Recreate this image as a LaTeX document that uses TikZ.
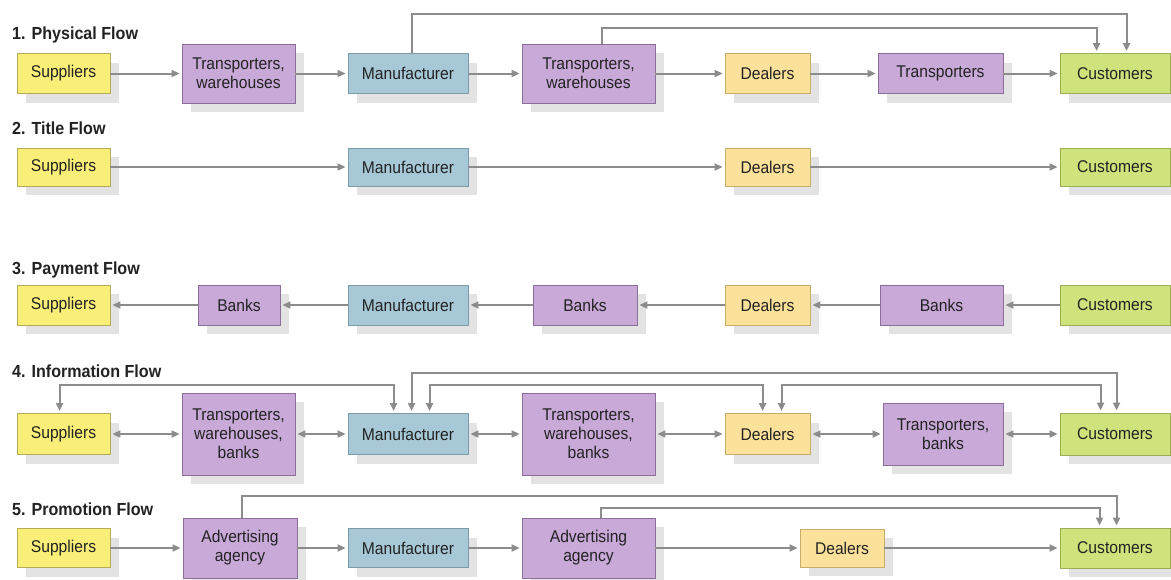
\documentclass[tikz,border=0pt]{standalone}
\usepackage{fontspec}
\setmainfont{Liberation Sans}[FakeStretch=0.92]
\usetikzlibrary{arrows.meta,shadows}

\definecolor{ink}{HTML}{222222}
\definecolor{lineC}{HTML}{8C8C8C}
\definecolor{shade}{HTML}{E3E3E3}
\definecolor{supF}{HTML}{F8EE78}\definecolor{supD}{HTML}{B5AA5A}
\definecolor{purF}{HTML}{C9A9D8}\definecolor{purD}{HTML}{8C6E9A}
\definecolor{manF}{HTML}{A7C8D6}\definecolor{manD}{HTML}{7D9BA8}
\definecolor{deaF}{HTML}{FCE19A}\definecolor{deaD}{HTML}{C8AC6A}
\definecolor{cusF}{HTML}{CFE37C}\definecolor{cusD}{HTML}{9BAE57}

\begin{document}
\begin{tikzpicture}[x=1pt,y=-1pt,
  box/.style={draw, line width=0.9pt, inner sep=0pt, align=center, text=ink,
    font=\fontsize{17}{19}\selectfont,
    drop shadow={shadow xshift=9pt, shadow yshift=-9pt, fill=shade, opacity=1}},
  sup/.style={box, fill=supF, draw=supD, minimum width=93pt, minimum height=40pt},
  man/.style={box, fill=manF, draw=manD, minimum width=120pt, minimum height=40pt},
  dea/.style={box, fill=deaF, draw=deaD, minimum width=85pt, minimum height=40pt},
  cus/.style={box, fill=cusF, draw=cusD, minimum width=110pt, minimum height=40pt},
  pur/.style={box, fill=purF, draw=purD},
  title/.style={anchor=base west, inner sep=0pt, text=ink,
    font=\bfseries\fontsize{17.5}{19}\selectfont},
  flow/.style={draw=lineC, line width=2pt, -{Triangle[length=8pt,width=7pt]}, shorten >=2pt},
  both/.style={flow, {Triangle[length=8pt,width=7pt]}-{Triangle[length=8pt,width=7pt]}, shorten <=2pt}
]
\fill[white] (0,0) rectangle (1171,579);
\useasboundingbox (0,0) rectangle (1171,579);

% ---------- 1. Physical flow ----------
\node[title] (h1) at (12,39) {1. Physical Flow};
\node[sup] (s1) at (63.5,73.5) {Suppliers};
\node[pur, minimum width=113pt, minimum height=59pt] (t1a) at (238.5,73.5) {Transporters,\\warehouses};
\node[man] (m1) at (408,73.5) {Manufacturer};
\node[pur, minimum width=133pt, minimum height=59pt] (t1b) at (588.5,73.5) {Transporters,\\warehouses};
\node[dea] (d1) at (767.5,73.5) {Dealers};
\node[pur, minimum width=125pt, minimum height=40pt] (t1c) at (940.5,73.5) {Transporters};
\node[cus] (c1) at (1115,73.5) {Customers};
\draw[flow] (s1) -- (t1a);
\draw[flow] (t1a) -- (m1);
\draw[flow] (m1) -- (t1b);
\draw[flow] (t1b) -- (d1);
\draw[flow] (d1) -- (t1c);
\draw[flow] (t1c) -- (c1);
\draw[flow] ([xshift=64pt]m1.north west) -- ++(0,-39) -| ([xshift=67pt]c1.north west);
\draw[flow] ([xshift=80pt]t1b.north west) -- ++(0,-16) -| ([xshift=37pt]c1.north west);

% ---------- 2. Title flow ----------
\node[title] (h2) at (12,134) {2. Title Flow};
\node[sup, minimum height=38pt] (s2) at (63.5,167) {Suppliers};
\node[man, minimum height=38pt] (m2) at (408,167) {Manufacturer};
\node[dea, minimum height=38pt] (d2) at (767.5,167) {Dealers};
\node[cus, minimum height=38pt] (c2) at (1115,167) {Customers};
\draw[flow] (s2) -- (m2);
\draw[flow] (m2) -- (d2);
\draw[flow] (d2) -- (c2);

% ---------- 3. Payment flow ----------
\node[title] (h3) at (12,274) {3. Payment Flow};
\node[sup] (s3) at (63.5,305) {Suppliers};
\node[pur, minimum width=82pt, minimum height=40pt] (b3a) at (239,305) {Banks};
\node[man] (m3) at (408,305) {Manufacturer};
\node[pur, minimum width=104pt, minimum height=40pt] (b3b) at (585,305) {Banks};
\node[dea] (d3) at (767.5,305) {Dealers};
\node[pur, minimum width=123pt, minimum height=40pt] (b3c) at (941.5,305) {Banks};
\node[cus] (c3) at (1115,305) {Customers};
\draw[flow] (b3a) -- (s3);
\draw[flow] (m3) -- (b3a);
\draw[flow] (b3b) -- (m3);
\draw[flow] (d3) -- (b3b);
\draw[flow] (b3c) -- (d3);
\draw[flow] (c3) -- (b3c);

% ---------- 4. Information flow ----------
\node[title] (h4) at (12,377) {4. Information Flow};
\node[sup, minimum height=41pt] (s4) at (63.5,434) {Suppliers};
\node[pur, minimum width=113pt, minimum height=82pt] (w4a) at (238.5,434) {Transporters,\\warehouses,\\banks};
\node[man, minimum height=41pt] (m4) at (408,434) {Manufacturer};
\node[pur, minimum width=133pt, minimum height=82pt] (w4b) at (588.5,434) {Transporters,\\warehouses,\\banks};
\node[dea, minimum height=41pt] (d4) at (767.5,434) {Dealers};
\node[pur, minimum width=120pt, minimum height=62pt] (w4c) at (943,434) {Transporters,\\banks};
\node[cus, minimum height=42pt] (c4) at (1115,434) {Customers};
\draw[both] (s4) -- (w4a);
\draw[both] (w4a) -- (m4);
\draw[both] (m4) -- (w4b);
\draw[both] (w4b) -- (d4);
\draw[both] (d4) -- (w4c);
\draw[both] (w4c) -- (c4);
\coordinate (k4a) at (60,385);
\coordinate (k4b) at (412,373);
\coordinate (k4c) at (430,385);
\coordinate (k4d) at (782,385);
\draw[both] ([xshift=43pt]s4.north west) |- (k4a) -| ([xshift=46pt]m4.north west);
\draw[both] ([xshift=64pt]m4.north west) |- (k4b) -| ([xshift=57pt]c4.north west);
\draw[both] ([xshift=82pt]m4.north west) |- (k4c) -| ([xshift=38pt]d4.north west);
\draw[both] ([xshift=57pt]d4.north west) |- (k4d) -| ([xshift=41pt]c4.north west);

% ---------- 5. Promotion flow ----------
\node[title] (h5) at (12,515) {5. Promotion Flow};
\node[sup, minimum height=39pt] (s5) at (63.5,548) {Suppliers};
\node[pur, minimum width=114pt, minimum height=60pt] (a5a) at (240,548) {Advertising\\agency};
\node[man, minimum height=39pt] (m5) at (408,548) {Manufacturer};
\node[pur, minimum width=133pt, minimum height=60pt] (a5b) at (588.5,548) {Advertising\\agency};
\node[dea, minimum width=84pt, minimum height=38pt] (d5) at (842,548) {Dealers};
\node[cus] (c5) at (1115,548) {Customers};
\draw[flow] (s5) -- (a5a);
\draw[flow] (a5a) -- (m5);
\draw[flow] (m5) -- (a5b);
\draw[flow] (a5b) -- (d5);
\draw[flow] (d5) -- (c5);
\draw[flow] ([xshift=59pt]a5a.north west) -- ++(0,-22) -| ([xshift=57pt]c5.north west);
\draw[flow] ([xshift=79pt]a5b.north west) -- ++(0,-10) -| ([xshift=40pt]c5.north west);
\end{tikzpicture}
\end{document}
